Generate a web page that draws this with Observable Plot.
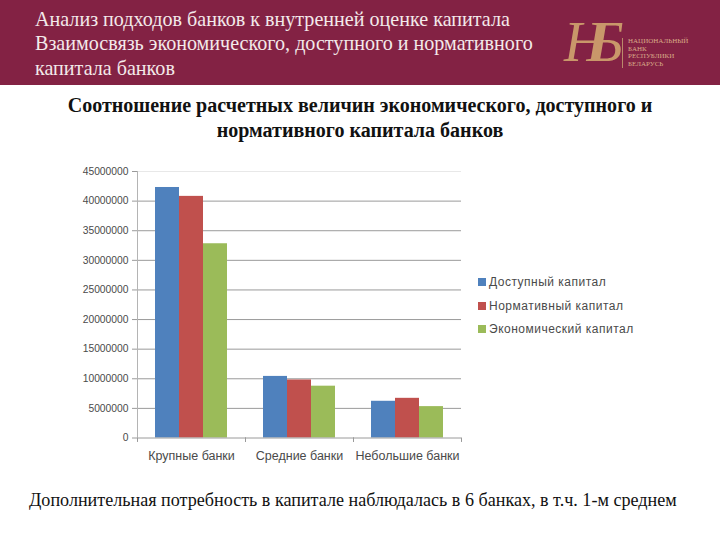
<!DOCTYPE html>
<html lang="ru">
<head>
<meta charset="utf-8">
<script src="https://cdn.jsdelivr.net/npm/d3@7"></script>
<script src="https://cdn.jsdelivr.net/npm/@observablehq/plot@0.6"></script>
<style>
html,body{margin:0;padding:0;background:#fff;width:720px;height:540px;overflow:hidden}
body{position:relative;font-family:"Liberation Serif",serif}
#banner{position:absolute;left:0;top:0;width:720px;height:85px;background:#832244}
.bt{position:absolute;left:35px;color:#f3e9ea;font-size:20.1px;white-space:nowrap;line-height:24px}
#logo{position:absolute;left:564px;top:14px;font-style:italic;font-size:56px;line-height:56px;color:#c9976a;letter-spacing:-14px}
#logoLine{position:absolute;left:622px;top:38px;width:1px;height:30px;background:#b98a6a}
#logoText{position:absolute;left:628px;top:38px;color:#d8aa88;font:7px/7.5px "Liberation Serif",serif;white-space:nowrap}
#heading{position:absolute;left:0;top:93px;width:720px;text-align:center;font-weight:bold;font-size:20.05px;line-height:25px;color:#111}
#chart{position:absolute;left:0;top:150px}
#legend{position:absolute;left:478px;top:275px;font:12px "Liberation Sans",sans-serif;color:#4a4a4a}
.li{position:absolute;left:0;white-space:nowrap;letter-spacing:.5px}
.sw{position:absolute;left:0;top:3px;width:8px;height:8px}
.li span{margin-left:11px}
#footer{position:absolute;left:29px;top:490px;font-size:18.1px;line-height:20px;color:#111;white-space:nowrap}
</style>
</head>
<body>
<div id="banner">
  <div class="bt" style="top:7px">Анализ подходов банков к внутренней оценке капитала</div>
  <div class="bt" style="top:31px">Взаимосвязь экономического, доступного и нормативного</div>
  <div class="bt" style="top:56px">капитала банков</div>
  <div id="logo">НБ</div>
  <div id="logoLine"></div>
  <div id="logoText">НАЦИОНАЛЬНЫЙ<br>БАНК<br>РЕСПУБЛИКИ<br>БЕЛАРУСЬ</div>
</div>
<div id="heading">Соотношение расчетных величин экономического, доступного и<br>нормативного капитала банков</div>
<div id="chart"></div>
<div id="legend"></div>
<div id="footer">Дополнительная потребность в капитале наблюдалась в 6 банках, в т.ч. 1-м среднем</div>
<script>
const categories = ["Крупные банки", "Средние банки", "Небольшие банки"];
const seriesNames = ["Доступный капитал", "Нормативный капитал", "Экономический капитал"];
const seriesColors = ["#4f81bd", "#c0504d", "#9bbb59"];
const available = [42300000, 10400000, 6200000];
const regulatory = [40800000, 9800000, 6700000];
const economic = [32800000, 8750000, 5300000];
const yTicks = [0, 5000000, 10000000, 15000000, 20000000, 25000000, 30000000, 35000000, 40000000, 45000000];

const seriesValues = [available, regulatory, economic];
const table = seriesNames.flatMap((s, i) => categories.map((c, j) => ({category: c, series: s, value: seriesValues[i][j]})));

const font = '"Liberation Sans", sans-serif';
const plot = Plot.plot({
  width: 720,
  height: 320,
  marginLeft: 137,
  marginRight: 259,
  marginTop: 21,
  marginBottom: 32.5,
  style: {fontFamily: font, background: "transparent"},
  fx: {domain: categories, padding: 0, label: null, axis: null},
  x: {domain: seriesNames, paddingInner: 0, paddingOuter: 0.75, round: false, axis: null},
  y: {domain: [0, 45000000], label: null, axis: null},
  color: {domain: seriesNames, range: seriesColors},
  marks: [
    Plot.ruleY(yTicks.filter(d => d > 0 && d < 45000000), {stroke: "#9a9a9a", strokeWidth: 1}),
    Plot.ruleY([45000000], {stroke: "#e8e8e8", strokeWidth: 1}),
    Plot.ruleX([0], {x: null, y1: 0, y2: -750000, dx: -54, stroke: "#9a9a9a"}),
    Plot.ruleX([0], {x: null, y1: 0, y2: -750000, dx: 54, stroke: "#9a9a9a"}),
    Plot.ruleX([categories[0]], {fx: d => d, x: null, y1: 0, y2: 45000000, dx: -54, stroke: "#b4b4b4"}),
    Plot.barY(table, {fx: "category", x: "series", y: "value", fill: "series"}),
    Plot.ruleY([0], {stroke: "#9a9a9a", strokeWidth: 1}),
    Plot.axisY({anchor: "left", ticks: yTicks, tickSize: 5, tickPadding: 4, tickFormat: d => String(d), label: null, fontSize: 10.3, color: "#4a4a4a", stroke: "#9a9a9a"}),
    Plot.axisFx({anchor: "bottom", tickSize: 0, tickPadding: 13, label: null, fontSize: 12.5, color: "#4a4a4a", letterSpacing: "0.8px"})
  ]
});
document.getElementById("chart").appendChild(plot);

const legend = document.getElementById("legend");
seriesNames.forEach((s, i) => {
  const row = document.createElement("div");
  row.className = "li";
  row.style.top = (i * 23.5) + "px";
  const sw = document.createElement("div");
  sw.className = "sw";
  sw.style.background = seriesColors[i];
  const t = document.createElement("span");
  t.textContent = s;
  row.append(sw, t);
  legend.append(row);
});
</script>
</body>
</html>
